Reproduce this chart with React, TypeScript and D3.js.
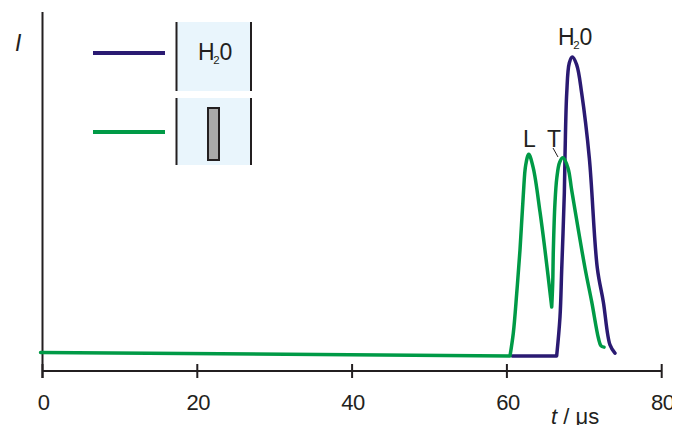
import React from "react";
import * as d3 from "d3";

const xTicks = [0, 20, 40, 60, 80];
const waterFlatTime = [60.7, 66.43];
const waterFlatI = [0.048, 0.048];
const waterPeakTime = [66.43, 66.86, 67.08, 67.42, 67.51, 67.73, 68.06, 68.45, 69.02, 69.66, 70.65, 71.68, 72.46, 73.32, 73.96];
const waterPeakI = [0.048, 0.172, 0.322, 0.567, 0.688, 0.885, 0.981, 1, 0.975, 0.885, 0.678, 0.328, 0.22, 0.083, 0.057];
const slitFlatTime = [-0.25, 60.4];
const slitFlatI = [0.059, 0.048];
const slitLongTime = [60.4, 60.83, 61.27, 61.69, 62.12, 62.43, 62.82, 63.41, 64.28, 64.92, 65.79];
const slitLongI = [0.048, 0.121, 0.248, 0.385, 0.561, 0.656, 0.69, 0.646, 0.506, 0.385, 0.204];
const slitTransTime = [65.79, 65.92, 66.0, 66.2, 66.45, 66.82, 67.25, 67.9, 68.37, 70.09, 70.96, 71.82, 72.16, 72.55];
const slitTransI = [0.204, 0.28, 0.385, 0.53, 0.615, 0.665, 0.679, 0.646, 0.576, 0.328, 0.22, 0.105, 0.08, 0.076];

const BLUE = "#2a1a72";
const GREEN = "#009a46";
const INK = "#231f20";
const FONT = "'Liberation Sans', Arial, sans-serif";

const x = d3.scaleLinear().domain([0, 80]).range([42.5, 661.7]);
const y = d3.scaleLinear().domain([0, 1]).range([371, 57]);

function piece(ts: number[], vs: number[]) {
  const line = d3
    .line<number>()
    .x((d) => x(ts[d]))
    .y((d) => y(vs[d]))
    .curve(d3.curveCatmullRom.alpha(0.5));
  return line(d3.range(ts.length)) as string;
}

function joined(parts: [number[], number[]][]) {
  return parts
    .map(([ts, vs], i) => {
      const d = piece(ts, vs);
      return i === 0 ? d : "L" + d.slice(1);
    })
    .join("");
}

function Box({ top, bottom }: { top: number; bottom: number }) {
  return (
    <g>
      <rect x={176} y={top} width={75} height={bottom - top} fill="#e9f5fc" />
      <line x1={176.5} x2={176.5} y1={top} y2={bottom} stroke={INK} strokeWidth={2} />
      <line x1={251} x2={251} y1={top} y2={bottom} stroke={INK} strokeWidth={2} />
    </g>
  );
}

function Water({ px, py, size }: { px: number; py: number; size: number }) {
  return (
    <text x={px} y={py} fontSize={size} fill={INK} letterSpacing={-0.5}>
      H<tspan fontSize={size * 0.5} dy={4} dx={-1}>2</tspan>
      <tspan dy={-4} dx={0.5}>0</tspan>
    </text>
  );
}

export default function App() {
  return (
    <svg
      width={672}
      height={425}
      style={{ position: "absolute", left: 0, top: 0, fontFamily: FONT }}
    >
      <line x1={42.5} x2={42.5} y1={12} y2={378} stroke={INK} strokeWidth={2} />
      <line x1={x(0)} x2={x(80)} y1={371} y2={371} stroke={INK} strokeWidth={2} />
      {xTicks.map((t) => (
        <g key={t}>
          <line x1={x(t)} x2={x(t)} y1={364} y2={378} stroke={INK} strokeWidth={2} />
          <text x={x(t) + 1} y={410} textAnchor="middle" fontSize={22} fill={INK} letterSpacing={-0.5}>
            {t}
          </text>
        </g>
      ))}
      <text x={15} y={51} fontSize={23} fontStyle="italic" fill={INK}>I</text>
      <text x={551} y={424} fontSize={22} fill={INK}>
        <tspan fontStyle="italic">t</tspan> / μs
      </text>

      <Box top={22} bottom={91} />
      <Box top={98} bottom={165} />
      <line x1={93} x2={165} y1={53} y2={53} stroke={BLUE} strokeWidth={4} />
      <line x1={93} x2={165} y1={132} y2={132} stroke={GREEN} strokeWidth={4} />
      <Water px={198} py={60} size={23} />
      <rect x={208} y={108} width={11} height={52} fill="#a9a9a9" stroke={INK} strokeWidth={2} />

      <path
        d={joined([[waterFlatTime, waterFlatI], [waterPeakTime, waterPeakI]])}
        fill="none" stroke={BLUE} strokeWidth={3.5} strokeLinejoin="round" strokeLinecap="round"
      />
      <path
        d={joined([[slitFlatTime, slitFlatI], [slitLongTime, slitLongI], [slitTransTime, slitTransI]])}
        fill="none" stroke={GREEN} strokeWidth={3.5} strokeLinejoin="round" strokeLinecap="round"
      />

      <Water px={558} py={45} size={23} />
      <text x={523} y={147} fontSize={23} fill={INK}>L</text>
      <text x={547} y={147} fontSize={23} fill={INK}>T</text>
      <line x1={553} x2={558} y1={148} y2={157} stroke={INK} strokeWidth={1} />
    </svg>
  );
}
